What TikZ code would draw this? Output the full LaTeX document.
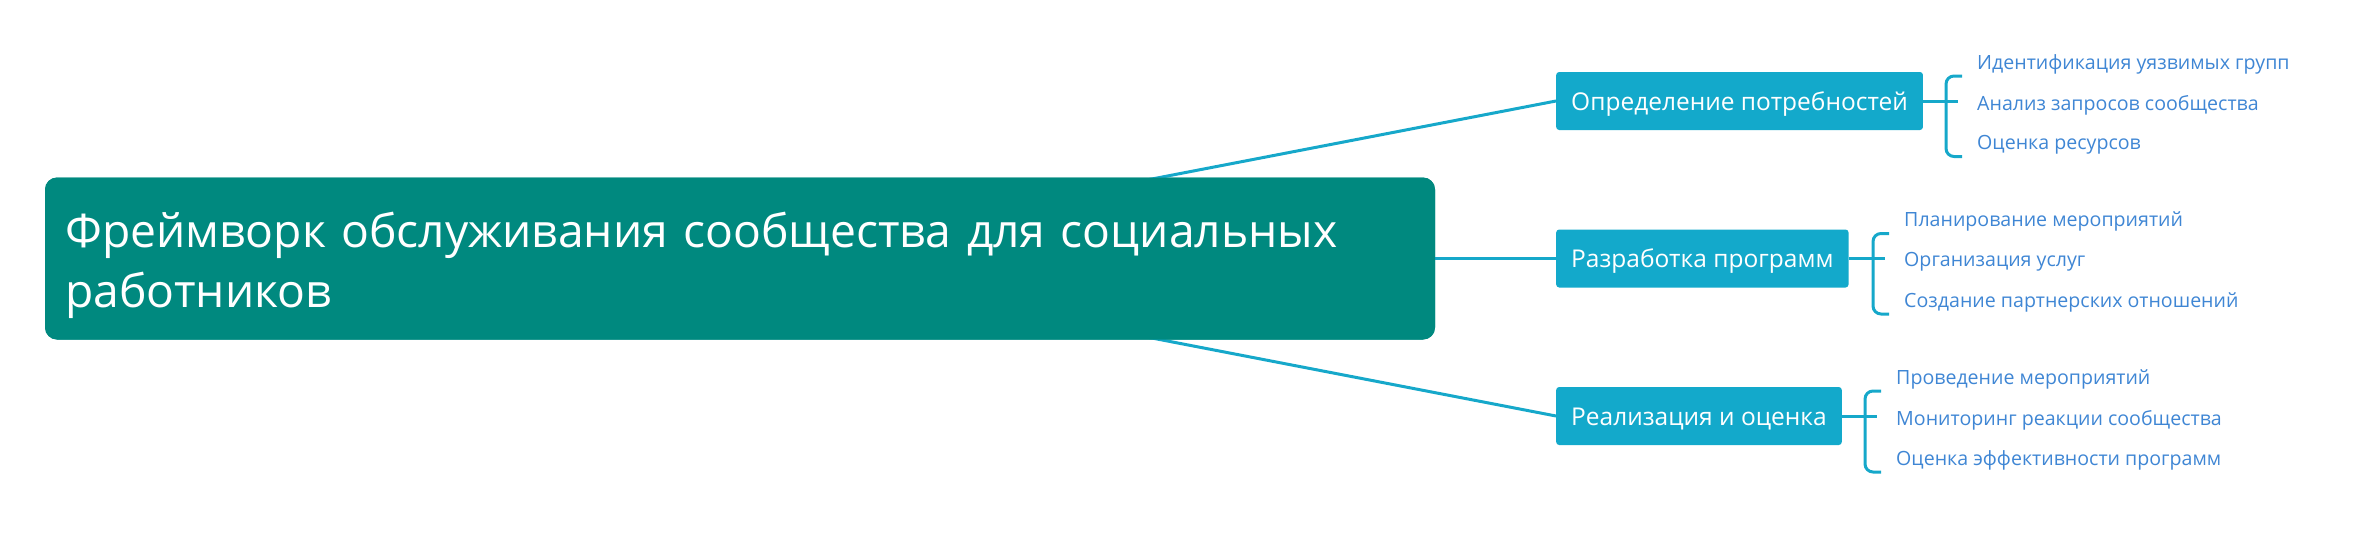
\documentclass[tikz,border=0pt]{standalone}
\usepackage{fontspec}
\setmainfont{Open Sans}
\definecolor{rootfill}{HTML}{00897F}
\definecolor{branchfill}{HTML}{13A9CB}
\definecolor{conncol}{HTML}{16A8CA}
\definecolor{leafcol}{HTML}{3F86D4}
\tikzset{
  rootbox/.style={draw=none, fill=rootfill, rounded corners=12pt, minimum width=1390pt, minimum height=162pt, inner sep=0pt},
  roottext/.style={text=white, font=\fontsize{46.2}{60}\selectfont, align=left, text width=1360pt, inner sep=0pt, anchor=base west},
  branchbox/.style={fill=branchfill, rounded corners=3pt, text=white, font=\fontsize{24.5}{30}\selectfont, inner xsep=15pt, inner ysep=0pt, minimum height=58pt, text height=19pt, text depth=1pt, anchor=west},
  leaf/.style={text=leafcol, font=\fontsize{19.6}{24}\selectfont, inner sep=0pt, anchor=base west},
  conn/.style={draw=conncol, line width=3pt},
  brace/.style={draw=conncol, line width=3pt, rounded corners=8pt},
}
\begin{document}
\begin{tikzpicture}[x=1pt,y=-1pt]
\useasboundingbox (0,0) rectangle (2357,533);
% nodes
\node[rootbox] (root) at (740,258.5) {};
\node[branchbox] (b1) at (1556,101) {Определение потребностей};
\node[branchbox] (b2) at (1556,258.5) {Разработка программ};
\node[branchbox] (b3) at (1556,416) {Реализация и оценка};
\draw[conn] (root.center) -- (b1.west);
\draw[conn] (root.center) -- (b2.west);
\draw[conn] (root.center) -- (b3.west);
\node[rootbox] (rootcover) at (root.center) {};
\node[roottext] (roottxt) at (65,247) {Фреймворк обслуживания сообщества для социальных\\работников};
% leaves
\node[leaf] (l11) at (1977,69) {Идентификация уязвимых групп};
\node[leaf] (l12) at (1977,110) {Анализ запросов сообщества};
\node[leaf] (l13) at (1977,149.5) {Оценка ресурсов};
\node[leaf] (l21) at (1904,226.5) {Планирование мероприятий};
\node[leaf] (l22) at (1904,266.5) {Организация услуг};
\node[leaf] (l23) at (1904,307) {Создание партнерских отношений};
\node[leaf] (l31) at (1896,384) {Проведение мероприятий};
\node[leaf] (l32) at (1896,425) {Мониторинг реакции сообщества};
\node[leaf] (l33) at (1896,465) {Оценка эффективности программ};
% braces
\coordinate (t11) at ([xshift=-15pt,yshift=-7pt]l11.base west);
\coordinate (t13) at ([xshift=-15pt,yshift=-7pt]l13.base west);
\coordinate (v11) at ([xshift=-31pt,yshift=-7pt]l11.base west);
\coordinate (v13) at ([xshift=-31pt,yshift=-7pt]l13.base west);
\draw[brace] (t11) -- (v11) -- (v13) -- (t13);
\draw[conn] (b1.east) -- ([xshift=-19pt]b1.east -| l12.west);
\coordinate (t21) at ([xshift=-15pt,yshift=-7pt]l21.base west);
\coordinate (t23) at ([xshift=-15pt,yshift=-7pt]l23.base west);
\coordinate (v21) at ([xshift=-31pt,yshift=-7pt]l21.base west);
\coordinate (v23) at ([xshift=-31pt,yshift=-7pt]l23.base west);
\draw[brace] (t21) -- (v21) -- (v23) -- (t23);
\draw[conn] (b2.east) -- ([xshift=-19pt]b2.east -| l22.west);
\coordinate (t31) at ([xshift=-15pt,yshift=-7pt]l31.base west);
\coordinate (t33) at ([xshift=-15pt,yshift=-7pt]l33.base west);
\coordinate (v31) at ([xshift=-31pt,yshift=-7pt]l31.base west);
\coordinate (v33) at ([xshift=-31pt,yshift=-7pt]l33.base west);
\draw[brace] (t31) -- (v31) -- (v33) -- (t33);
\draw[conn] (b3.east) -- ([xshift=-19pt]b3.east -| l32.west);
\end{tikzpicture}
\end{document}
